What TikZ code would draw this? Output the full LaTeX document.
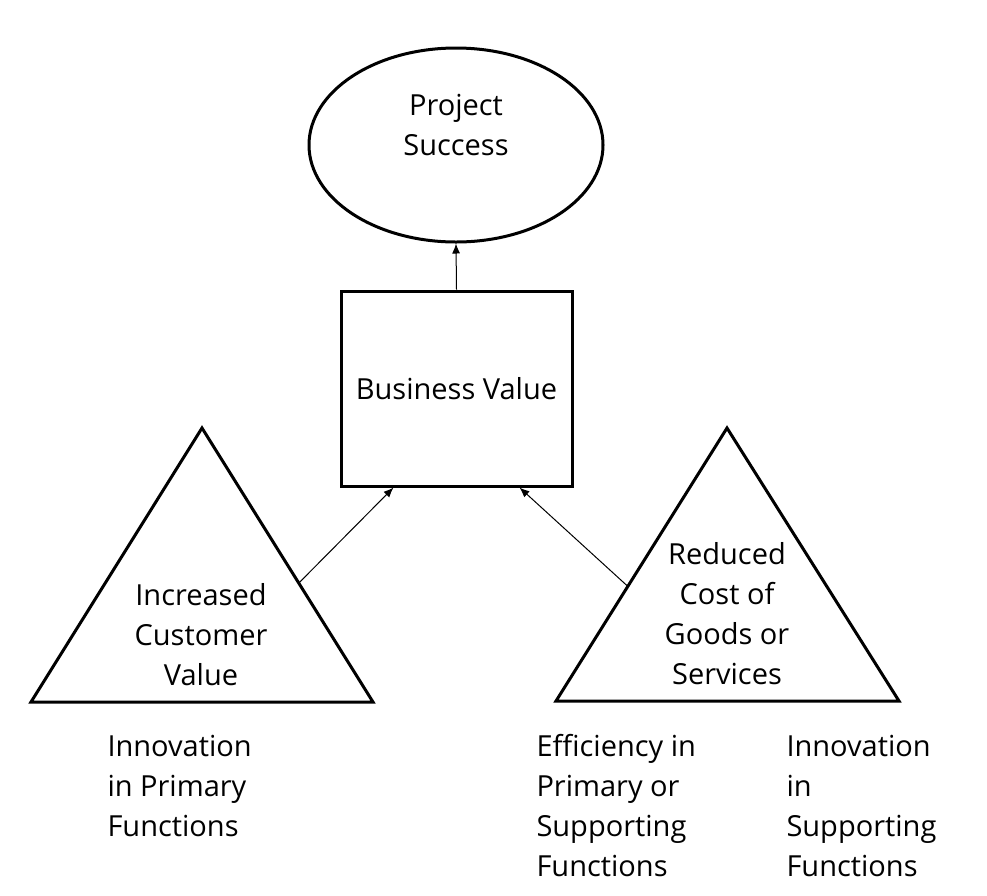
\documentclass[tikz,border=0pt]{standalone}
\usepackage{fontspec}
\setmainfont{Open Sans}
\usetikzlibrary{shapes.geometric,arrows.meta,calc}
\begin{document}
\begin{tikzpicture}[x=1pt,y=-1pt,line width=3pt,>={Latex[length=10pt,width=8pt]},
 line join=miter,font=\fontsize{29}{40}\selectfont]
\useasboundingbox (0,0) rectangle (987,895);
% top and middle
\node[draw,ellipse,minimum width=294,minimum height=194] (success) at (456,145) {};
\node[align=center] (successtxt) at (456,125) {Project\\Success};
\node[draw,minimum width=231,minimum height=195] (bv) at (456.5,388.5) {Business Value};
% triangles
\coordinate (lt) at (202,428);
\coordinate (ll) at (31,702);
\coordinate (lr) at (373,702);
\draw (lt)--(ll)--(lr)--cycle;
\coordinate (rt) at (727,428);
\coordinate (rl) at (556,701);
\coordinate (rr) at (899,701);
\draw (rt)--(rl)--(rr)--cycle;
\node[align=center] (icv) at (201,635) {Increased\\Customer\\Value};
\node[align=center] (rcg) at (727,614) {Reduced\\Cost of\\Goods or\\Services};
% lower labels
\node[align=left,anchor=west,inner sep=0] (ipf) at (106,786) {Innovation\\in Primary\\Functions};
\node[align=left,anchor=west,inner sep=0] (eps) at (535,806) {Efficiency in\\Primary or\\Supporting\\Functions};
\node[align=left,anchor=west,inner sep=0] (isf) at (785,806) {Innovation\\in\\Supporting\\Functions};
% arrows
\coordinate (la) at ($(lt)!0.566!(lr)$);
\coordinate (ra) at ($(rt)!0.58!(rl)$);
\draw[->,line width=1pt] (bv.north)--(success.south);
\draw[->,line width=1pt] (la)--([xshift=54]bv.south west);
\draw[->,line width=1pt] (ra)--([xshift=-54]bv.south east);
\end{tikzpicture}
\end{document}
